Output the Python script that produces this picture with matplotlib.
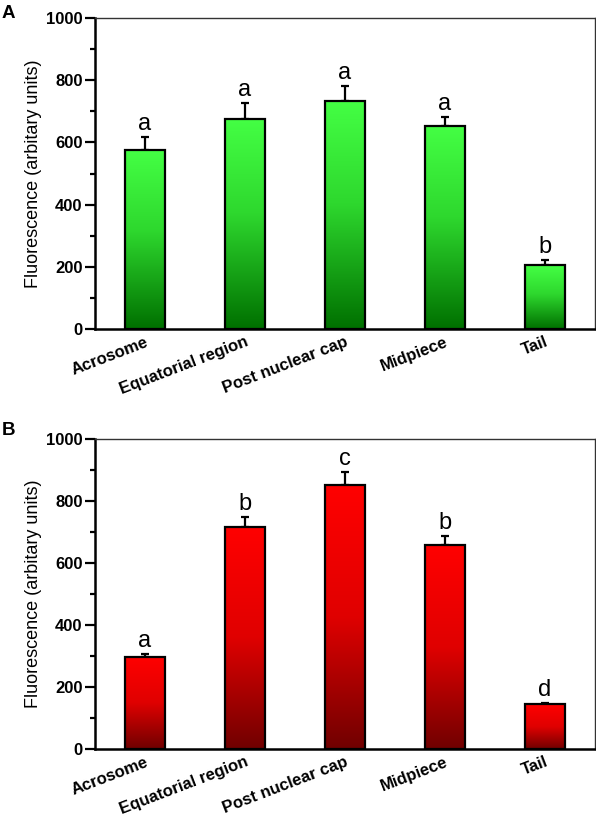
import numpy as np
import matplotlib
matplotlib.use("Agg")
import matplotlib.pyplot as plt
from matplotlib.colors import LinearSegmentedColormap
from matplotlib.ticker import MultipleLocator

plt.rcParams['font.family'] = ['Liberation Sans', 'DejaVu Sans']

categories = ["Acrosome", "Equatorial region", "Post nuclear cap", "Midpiece", "Tail"]
values_a = [575, 676, 734, 654, 205]
errors_a = [42, 52, 48, 29, 16]
letters_a = ["a", "a", "a", "a", "b"]
values_b = [297, 717, 853, 657, 144]
errors_b = [10, 32, 40, 31, 5]
letters_b = ["a", "b", "c", "b", "d"]
ylabel = "Fluorescence (arbitary units)"

green_cmap = LinearSegmentedColormap.from_list("g", [(0, "#007000"), (0.55, "#2ed82e"), (1, "#44ff44")])
red_cmap = LinearSegmentedColormap.from_list("r", [(0, "#700000"), (0.5, "#e00000"), (1, "#ff0000")])

fig = plt.figure(figsize=(5.96, 8.18), dpi=100)
H = 818.0
W = 596.0
axA = fig.add_axes([95 / W, 1 - 329 / H, 500 / W, 311 / H])
axB = fig.add_axes([95 / W, 1 - 749 / H, 500 / W, 310 / H])


def draw(ax, vals, errs, letters, cmap):
    x = np.arange(len(categories))
    bars = ax.bar(x, vals, width=0.4, color="none", edgecolor="black", linewidth=1.6, zorder=3)
    grad = np.linspace(0, 1, 256).reshape(-1, 1)
    for b in bars:
        x0, y0 = b.get_x(), b.get_y()
        w, h = b.get_width(), b.get_height()
        im = ax.imshow(grad, extent=[x0, x0 + w, y0, y0 + h], origin="lower", aspect="auto",
                       cmap=cmap, zorder=2)
        im.set_clip_path(b)
    ax.errorbar(x, vals, yerr=[np.zeros(len(vals)), errs], fmt="none", ecolor="black",
                elinewidth=1.6, capsize=3, capthick=1.6, zorder=1)
    for xi, v, e, l in zip(x, vals, errs, letters):
        ax.text(xi, v + e + 22, l, ha="center", va="baseline", fontsize=17)
    ax.set_xlim(-0.5, 4.5)
    ax.set_ylim(0, 1000)
    ax.yaxis.set_major_locator(MultipleLocator(200))
    ax.yaxis.set_minor_locator(MultipleLocator(100))
    ax.tick_params(axis="y", which="major", direction="out", length=7, width=1.6, labelsize=12, pad=2)
    ax.tick_params(axis="y", which="minor", direction="out", length=3.6, width=1.6)
    ax.tick_params(axis="x", length=0, pad=4)
    for lab in ax.get_yticklabels():
        lab.set_fontweight("bold")
    ax.set_xticks(x)
    ax.set_xticklabels(categories, rotation=21, ha="right", rotation_mode="anchor",
                       fontsize=12, fontweight="bold")
    ax.set_ylabel(ylabel, fontsize=13, labelpad=3)
    ax.spines["left"].set_linewidth(1.8)
    ax.spines["bottom"].set_linewidth(1.8)
    ax.spines["top"].set_linewidth(1.0)
    ax.spines["right"].set_linewidth(1.0)
    ax.spines["top"].set_color("#333333")
    ax.spines["right"].set_color("#333333")


draw(axA, values_a, errors_a, letters_a, green_cmap)
draw(axB, values_b, errors_b, letters_b, red_cmap)

fig.text(2 / W, 1 - 18.5 / H, "A", fontsize=13.5, fontweight="bold", va="baseline", ha="left")
fig.text(2 / W, 1 - 435 / H, "B", fontsize=13.5, fontweight="bold", va="baseline", ha="left")

fig.savefig("out.png", dpi=100)
